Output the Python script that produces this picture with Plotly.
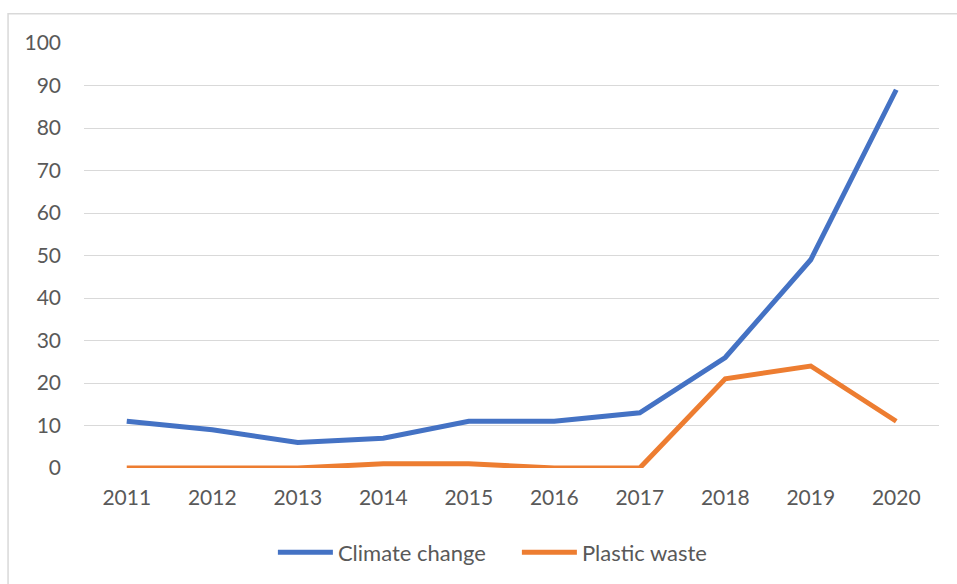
import plotly.graph_objects as go

years = ["2011", "2012", "2013", "2014", "2015", "2016", "2017", "2018", "2019", "2020"]
climate_change = [11, 9, 6, 7, 11, 11, 13, 26, 49, 89]
plastic_waste = [0, 0, 0, 1, 1, 0, 0, 21, 24, 11]
y_ticks = [0, 10, 20, 30, 40, 50, 60, 70, 80, 90, 100]

W, H = 957, 584
L, R, T, B = 84, 17.5, 43.3, 116.3
pw, ph = W - L - R, H - T - B

FONT = "Lato, 'Open Sans', sans-serif"
GRAY = "#595959"
FS = 21

fig = go.Figure()
fig.add_trace(go.Scatter(x=years, y=climate_change, mode="lines", name="Climate change",
                         line=dict(color="#4472C4", width=5)))
fig.add_trace(go.Scatter(x=years, y=plastic_waste, mode="lines", name="Plastic waste",
                         line=dict(color="#ED7D31", width=5)))

# chart-area border (Excel style), extends off the right/bottom of the window
fig.add_shape(type="rect", xref="paper", yref="paper",
              x0=(8 - L) / pw, x1=(W + 5 - L) / pw,
              y0=(H - B - (H + 5)) / ph, y1=(H - B - 14) / ph,
              line=dict(color="#D9D9D9", width=1.5), fillcolor="rgba(0,0,0,0)", layer="below")

fig.update_layout(
    width=W, height=H,
    margin=dict(l=L, r=R, t=T, b=B, pad=0, autoexpand=False),
    paper_bgcolor="white", plot_bgcolor="white",
    font=dict(family=FONT, color=GRAY, size=FS),
    showlegend=True,
    legend=dict(orientation="h", x=(273 - L) / pw, xanchor="left",
                y=-(552 - (H - B)) / ph, yanchor="middle",
                font=dict(size=22, color=GRAY), itemwidth=55,
                entrywidth=174, entrywidthmode="pixels",
                traceorder="normal"),
    xaxis=dict(type="category", range=[-0.5, len(years) - 0.5], automargin=False,
               showgrid=False, showline=False, zeroline=False,
               ticks="", tickfont=dict(size=FS, color=GRAY), ticklabelstandoff=15),
    yaxis=dict(range=[0, 100], tickvals=y_ticks, automargin=False, showgrid=True,
               gridcolor="#D9D9D9", gridwidth=1.2, zeroline=False, showline=False, ticks="",
               tickfont=dict(size=FS, color=GRAY), ticklabelstandoff=22),
)

fig.write_html("out.html")
